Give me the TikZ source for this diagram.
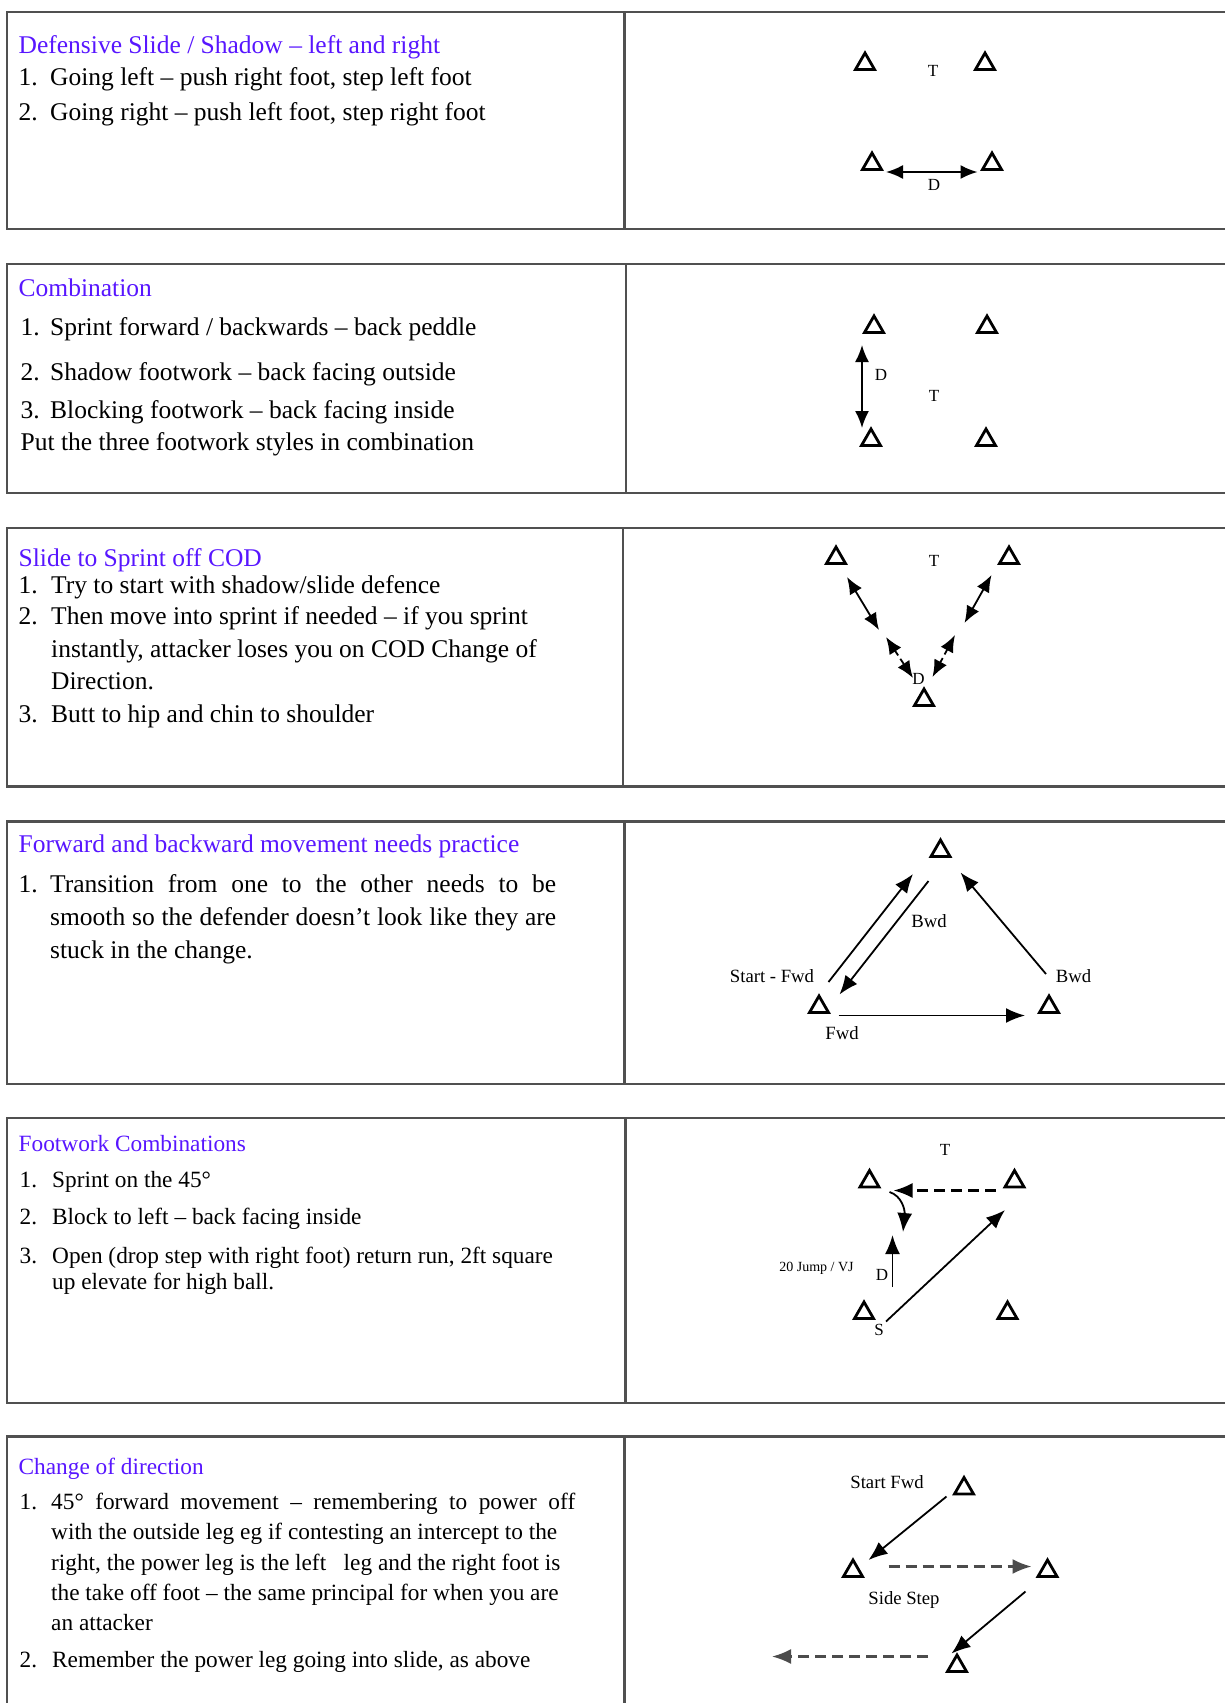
\documentclass[tikz,border=0pt]{standalone}
\usepackage{fontspec}
\setmainfont{Liberation Serif}
\usetikzlibrary{shapes.geometric,arrows.meta}
\definecolor{ttlblue}{RGB}{88,22,255}
\definecolor{cellgray}{RGB}{80,80,80}
\newcommand\fntA{\fontsize{25.5}{30}\selectfont}
\newcommand\fntB{\fontsize{23.3}{28}\selectfont}
\newcommand\fntL{\fontsize{18.7}{22}\selectfont}
\newcommand\fntT{\fontsize{17}{20}\selectfont}
\begin{document}
\begin{tikzpicture}[x=1pt,y=-1pt,
  cell/.style={draw=cellgray, line width=2.6pt},
  cone/.style={draw, regular polygon, regular polygon sides=3, minimum size=22pt, inner sep=0pt, line width=2.8pt},
  arr/.style={line width=1.8pt, -{Latex[length=19pt,width=15pt]}},
  darr/.style={line width=1.8pt, {Latex[length=17pt,width=14pt]}-{Latex[length=17pt,width=14pt]}},
  dsh/.style={line width=2.2pt, dash pattern=on 11pt off 6pt},
  ttlA/.style={anchor=base west, inner sep=0pt, text=ttlblue, font=\fntA},
  lnA/.style={anchor=base west, inner sep=0pt, font=\fntA},
  ttlB/.style={anchor=base west, inner sep=0pt, text=ttlblue, font=\fntB},
  lnB/.style={anchor=base west, inner sep=0pt, font=\fntB},
  lbl/.style={inner sep=0pt, font=\fntL},
  lblT/.style={inner sep=0pt, font=\fntT}]
\useasboundingbox[fill=white] (0,0) rectangle (1224,1703);

% ---------- cells ----------
\draw[cell] (7,12) rectangle (1240,229);      \draw[cell] (624.5,12) -- (624.5,229);
\draw[cell] (7,264) rectangle (1240,493);     \draw[cell] (626,264) -- (626,493);
\draw[cell] (7,528) rectangle (1240,786.5);   \draw[cell] (623,528) -- (623,786.5);
\draw[cell] (7,821.5) rectangle (1240,1084);  \draw[cell] (624.5,821.5) -- (624.5,1084);
\draw[cell] (7,1118) rectangle (1240,1403);   \draw[cell] (625.5,1118) -- (625.5,1403);
\draw[cell] (7,1436.5) rectangle (1240,1720); \draw[cell] (624.5,1436.5) -- (624.5,1720);

% ---------- box 1 text ----------
\node[ttlA] (t1) at (18.5,53) {Defensive Slide / Shadow – left and right};
\node[lnA] (n11) at (18.5,85) {1.};
\node[lnA] (l11) at (50,85) {Going left – push right foot, step left foot};
\node[lnA] (n12) at (18.5,120.5) {2.};
\node[lnA] (l12) at (50,120.5) {Going right – push left foot, step right foot};

% ---------- box 2 text ----------
\node[ttlA] (t2) at (18.5,296.5) {Combination};
\node[lnA] (n21) at (20.5,335.5) {1.};
\node[lnA] (l21) at (50,335.5) {Sprint forward / backwards – back peddle};
\node[lnA] (n22) at (20.5,380) {2.};
\node[lnA] (l22) at (50,380) {Shadow footwork – back facing outside};
\node[lnA] (n23) at (20.5,418) {3.};
\node[lnA] (l23) at (50,418) {Blocking footwork – back facing inside};
\node[lnA] (l24) at (20.5,450.5) {Put the three footwork styles in combination};

% ---------- box 3 text ----------
\node[ttlA] (t3) at (18.5,566) {Slide to Sprint off COD};
\node[lnA] (n31) at (18.5,593) {1.};
\node[lnA] (l31) at (51,593) {Try to start with shadow/slide defence};
\node[lnA] (n32) at (18.5,624.5) {2.};
\node[lnA] (l32) at (51,624.5) {Then move into sprint if needed – if you sprint};
\node[lnA] (l33) at (51,657) {instantly, attacker loses you on COD Change of};
\node[lnA] (l34) at (51,689.5) {Direction.};
\node[lnA] (n35) at (18.5,722) {3.};
\node[lnA] (l35) at (51,722) {Butt to hip and chin to shoulder};

% ---------- box 4 text ----------
\node[ttlA] (t4) at (18.5,852.5) {Forward and backward movement needs practice};
\node[lnA] (n41) at (18.5,892.5) {1.};
\node[lnA] (l41) at (50,892.5) {\makebox[506pt][s]{Transition from one to the other needs to be}};
\node[lnA] (l42) at (50,925) {\makebox[506pt][s]{smooth so the defender doesn’t look like they are}};
\node[lnA] (l43) at (50,958) {stuck in the change.};

% ---------- box 5 text ----------
\node[ttlB] (t5) at (18.5,1151) {Footwork Combinations};
\node[lnB] (n51) at (19.5,1187) {1.};
\node[lnB] (l51) at (52,1187) {Sprint on the 45°};
\node[lnB] (n52) at (19.5,1224) {2.};
\node[lnB] (l52) at (52,1224) {Block to left – back facing inside};
\node[lnB] (n53) at (19.5,1263) {3.};
\node[lnB] (l53) at (52,1263) {Open (drop step with right foot) return run, 2ft square};
\node[lnB] (l54) at (52,1289.5) {up elevate for high ball.};

% ---------- box 6 text ----------
\node[ttlB] (t6) at (18.5,1474) {Change of direction};
\node[lnB] (n61) at (19.5,1509) {1.};
\node[lnB] (l61) at (51,1509) {\makebox[524pt][s]{45° forward movement – remembering to power off}};
\node[lnB] (l62) at (51,1539.5) {with the outside leg eg if contesting an intercept to the};
\node[lnB] (l63) at (51,1570) {right, the power leg is the left\ \ \ leg and the right foot is};
\node[lnB] (l64) at (51,1600) {the take off foot – the same principal for when you are};
\node[lnB] (l65) at (51,1630.5) {an attacker};
\node[lnB] (n66) at (19.5,1667.5) {2.};
\node[lnB] (l66) at (52,1667.5) {Remember the power leg going into slide, as above};

% ---------- diagram 1 ----------
\node[cone] (a1) at (865,64) {};
\node[cone] (a2) at (985,64) {};
\node[cone] (a3) at (872,164) {};
\node[cone] (a4) at (992,164) {};
\node[lblT] (aT) at (933,71) {T};
\coordinate (aL) at (886,172);
\coordinate (aR) at (977.5,172);
\draw[darr] (aL) -- (aR);
\node[lblT] (aD) at (934,184.5) {D};

% ---------- diagram 2 ----------
\node[cone] (b1) at (874,327) {};
\node[cone] (b2) at (987,327) {};
\node[cone] (b3) at (871,440) {};
\node[cone] (b4) at (986,440) {};
\node[lblT] (bT) at (934,395.5) {T};
\node[lblT] (bD) at (881,375) {D};
\coordinate (bU) at (862,345);
\coordinate (bL) at (862,428);
\draw[darr] (bU) -- (bL);

% ---------- diagram 3 ----------
\node[cone] (c1) at (836,558) {};
\node[cone] (c2) at (1009,558) {};
\node[cone] (c3) at (924,700) {};
\node[lblT] (cT) at (934,561) {T};
\node[lblT] (cD) at (918.5,679) {D};
\coordinate (c1a) at (847,577);   \coordinate (c1b) at (879,630);
\coordinate (c1c) at (886,637);   \coordinate (c1d) at (913,678);
\coordinate (c2a) at (991.5,575); \coordinate (c2b) at (964.5,623);
\coordinate (c2c) at (955,635);   \coordinate (c2d) at (932.5,677);
\draw[darr] (c1a) -- (c1b);
\draw[darr,dash pattern=on 6pt off 4pt] (c1c) -- (c1d);
\draw[darr] (c2a) -- (c2b);
\draw[darr,dash pattern=on 6pt off 4pt] (c2c) -- (c2d);

% ---------- diagram 4 ----------
\node[cone] (d1) at (940.5,851) {};
\node[cone] (d2) at (819,1007) {};
\node[cone] (d3) at (1049,1007) {};
\coordinate (d1a) at (828.5,982);   \coordinate (d1b) at (913,874);
\coordinate (d2a) at (928.5,881);   \coordinate (d2b) at (839.5,994.5);
\coordinate (d3a) at (1046,974);    \coordinate (d3b) at (960.5,872.5);
\coordinate (d4a) at (838.5,1015.5); \coordinate (d4b) at (1025,1015.5);
\draw[arr] (d1a) -- (d1b);
\draw[arr] (d2a) -- (d2b);
\draw[arr] (d3a) -- (d3b);
\draw[arr] (d4a) -- (d4b);
\node[lbl] (dB1) at (929,921.5) {Bwd};
\node[lbl] (dS) at (772,976.5) {Start - Fwd};
\node[lbl] (dB2) at (1073.5,976.5) {Bwd};
\node[lbl] (dF) at (842,1033) {Fwd};

% ---------- diagram 5 ----------
\node[cone] (e1) at (869.5,1181.5) {};
\node[cone] (e2) at (1014.5,1181.5) {};
\node[cone] (e3) at (864,1313) {};
\node[cone] (e4) at (1007.5,1313) {};
\node[lblT] (eT) at (945,1149.5) {T};
\coordinate (e5a) at (995.5,1190.5); \coordinate (e5b) at (893.5,1190.5);
\draw[arr,dsh] (e5a) -- (e5b);
\coordinate (e6a) at (889.5,1192);   \coordinate (e6b) at (903,1232);
\draw[arr] (e6a) .. controls (902,1196) and (905,1210) .. (e6b);
\coordinate (e7a) at (892.5,1287);   \coordinate (e7b) at (892.5,1235);
\draw[arr] (e7a) -- (e7b);
\coordinate (e8a) at (886,1321.5);   \coordinate (e8b) at (1005,1210);
\draw[arr] (e8a) -- (e8b);
\node[inner sep=0pt, font=\fontsize{14}{16}\selectfont] (eJ) at (816.5,1268) {20 Jump / VJ};
\node[lblT] (eD) at (882,1275) {D};
\node[lblT] (eS) at (879,1330) {S};

% ---------- diagram 6 ----------
\node[cone] (f1) at (964,1488.5) {};
\node[cone] (f2) at (853,1571) {};
\node[cone] (f3) at (1047.5,1571) {};
\node[cone] (f4) at (957,1666) {};
\node[lbl] (fS) at (887,1482.5) {Start Fwd};
\node[lbl] (fT) at (904,1600) {Side Step};
\coordinate (f1a) at (946.5,1496.5); \coordinate (f1b) at (868.5,1560);
\coordinate (f2a) at (888.5,1566.5); \coordinate (f2b) at (1031.5,1566.5);
\coordinate (f3a) at (1025.5,1591.5); \coordinate (f3b) at (951.5,1653.5);
\coordinate (f4a) at (928,1656.5);   \coordinate (f4b) at (772,1656.5);
\draw[arr] (f1a) -- (f1b);
\draw[arr,dsh,draw=black!70] (f2a) -- (f2b);
\draw[arr] (f3a) -- (f3b);
\draw[arr,dsh,draw=black!70] (f4a) -- (f4b);
\end{tikzpicture}
\end{document}
